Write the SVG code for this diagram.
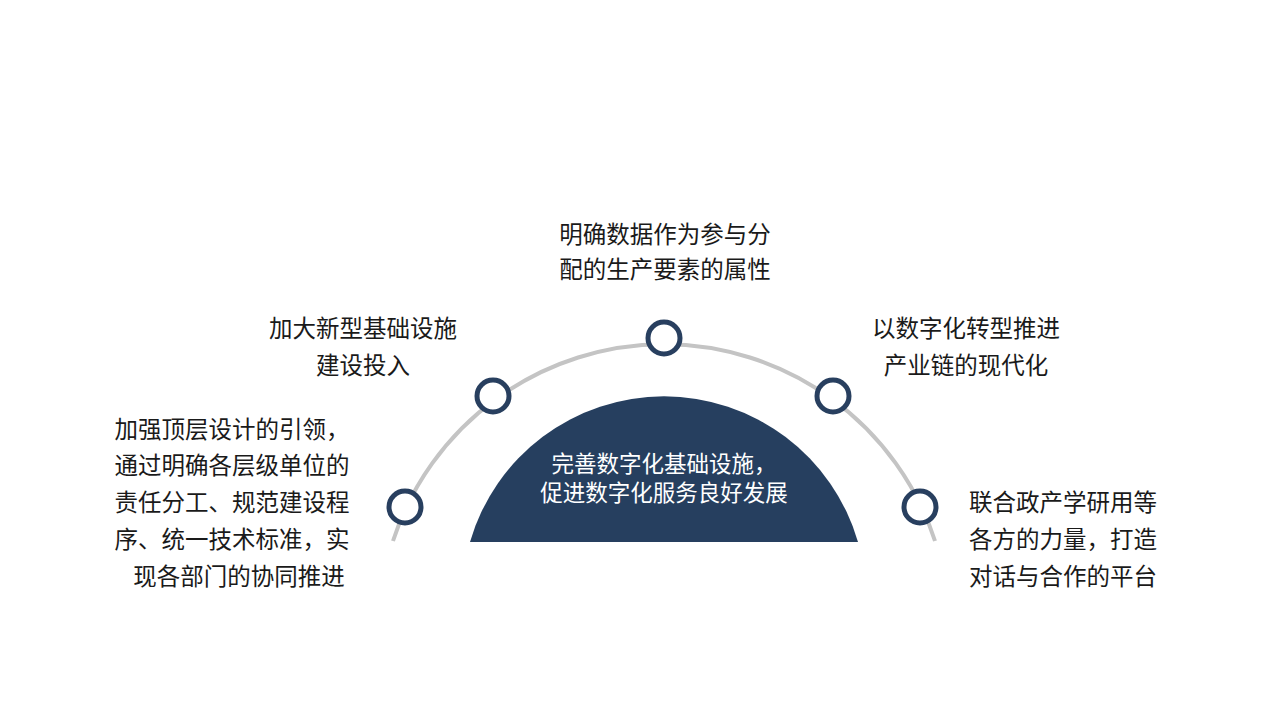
<svg xmlns="http://www.w3.org/2000/svg" width="1280" height="720" viewBox="0 0 1280 720">
<style>
.t{font-family:"Noto Sans CJK SC","Microsoft YaHei",sans-serif;font-size:23.5px;fill:#1a1a1a;text-anchor:middle}
.w{fill:#ffffff;font-size:22.5px}
.dot{fill:#ffffff;stroke:#283f5f;stroke-width:5}
</style>
<rect width="1280" height="720" fill="#ffffff"/>
<g id="connectors">
<path d="M393,541 A285,285 0 0 1 935,541" fill="none" stroke="#c4c4c4" stroke-width="4"/>
</g>
<g id="center">
<path d="M470,542 A202,202 0 0 1 858,542 Z" fill="#263f5f"/>
<text class="t w" x="664" y="472">完善数字化基础设施，</text>
<text class="t w" x="664" y="501">促进数字化服务良好发展</text>
</g>
<g id="node-top">
<circle class="dot" cx="664" cy="338" r="16"/>
<text class="t" x="665" y="243">明确数据作为参与分</text>
<text class="t" x="665" y="278">配的生产要素的属性</text>
</g>
<g id="node-upper-left">
<circle class="dot" cx="493" cy="396" r="16"/>
<text class="t" x="363" y="337">加大新型基础设施</text>
<text class="t" x="363" y="374">建设投入</text>
</g>
<g id="node-upper-right">
<circle class="dot" cx="833" cy="396" r="16"/>
<text class="t" x="966" y="337">以数字化转型推进</text>
<text class="t" x="966" y="374">产业链的现代化</text>
</g>
<g id="node-lower-left">
<circle class="dot" cx="405" cy="507" r="16"/>
<text class="t" x="232" y="438">加强顶层设计的引领，</text>
<text class="t" x="232" y="474">通过明确各层级单位的</text>
<text class="t" x="232" y="511">责任分工、规范建设程</text>
<text class="t" x="232" y="548">序、统一技术标准，实</text>
<text class="t" x="239" y="585">现各部门的协同推进</text>
</g>
<g id="node-lower-right">
<circle class="dot" cx="920" cy="507" r="16"/>
<text class="t" x="1063" y="511">联合政产学研用等</text>
<text class="t" x="1063" y="548">各方的力量，打造</text>
<text class="t" x="1063" y="585">对话与合作的平台</text>
</g>
</svg>
